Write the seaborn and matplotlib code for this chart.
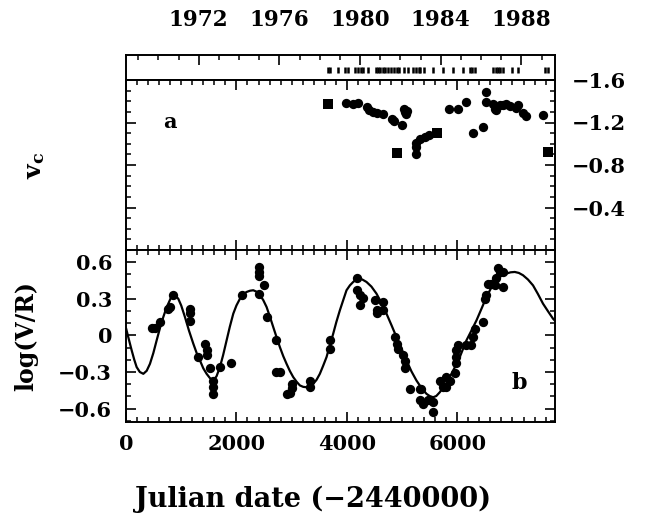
import numpy as np
import pandas as pd
import matplotlib
matplotlib.use("Agg")
import matplotlib.pyplot as plt
import seaborn as sns
from matplotlib.ticker import MultipleLocator, FixedLocator

# ---------------- data (JD - 2440000) ----------------
# observation dates of spectra (top strip)
obs_dates = [3650, 3690, 3843, 3964, 4024, 4145, 4205, 4250, 4295, 4386,
             4530, 4560, 4600, 4650, 4700, 4740, 4800, 4850, 4900, 4950,
             5040, 5110, 5200, 5250, 5300, 5320, 5395, 5560, 5745, 5925,
             6105, 6225, 6275, 6315, 6650, 6700, 6740, 6780, 6820, 7000,
             7100, 7585, 7640]

# panel a : v_c
va_circ_x = [3982, 4115, 4193, 4356, 4404, 4476, 4538, 4646, 4809, 4851,
             4990, 5030, 5050, 5080, 5090, 5260, 5260, 5260, 5320, 5410,
             5490, 5852, 6015, 6166, 6287, 6467, 6516, 6516, 6648, 6679,
             6710, 6769, 6829, 6890, 6950, 7071, 7101, 7191, 7240, 7553]
va_circ_y = [-1.38, -1.37, -1.38, -1.35, -1.32, -1.30, -1.29, -1.28, -1.235, -1.21,
             -1.18, -1.33, -1.30, -1.28, -1.31, -1.01, -0.965, -0.90, -1.045, -1.06,
             -1.08, -1.33, -1.33, -1.39, -1.10, -1.155, -1.49, -1.39, -1.378, -1.33,
             -1.314, -1.362, -1.362, -1.378, -1.352, -1.34, -1.362, -1.289, -1.257, -1.27]
va_sq_x = [3662, 4917, 5635, 7644]
va_sq_y = [-1.37, -0.91, -1.10, -0.92]

# panel b : log(V/R)
vr_x = [465, 525, 615, 766, 797, 857, 1160, 1160, 1160, 1310,
        1430, 1460, 1460, 1520, 1580, 1580, 1580, 1700, 1900, 2110,
        2400, 2400, 2400, 2400, 2500, 2545, 2725, 2725, 2785, 2910,
        2970, 3000, 3000, 3330, 3330, 3690, 3690, 4175, 4175, 4235,
        4235, 4295, 4510, 4540, 4540, 4660, 4660, 4870, 4900, 4930,
        5020, 5050, 5050, 5140, 5320, 5350, 5320, 5380, 5470, 5560,
        5560, 5680, 5740, 5800, 5800, 5860, 5955, 5985, 5985, 5985,
        6015, 6165, 6255, 6285, 6315, 6465, 6495, 6525, 6555, 6615,
        6675, 6705, 6735, 6765, 6825, 6825]
vr_y = [0.06, 0.06, 0.11, 0.22, 0.23, 0.33, 0.22, 0.18, 0.12, -0.18,
        -0.07, -0.12, -0.16, -0.27, -0.37, -0.42, -0.48, -0.26, -0.23, 0.33,
        0.56, 0.52, 0.49, 0.34, 0.41, 0.15, -0.04, -0.30, -0.30, -0.48,
        -0.47, -0.40, -0.43, -0.37, -0.42, -0.04, -0.11, 0.47, 0.37, 0.33,
        0.25, 0.31, 0.29, 0.21, 0.18, 0.27, 0.21, -0.01, -0.07, -0.11,
        -0.16, -0.21, -0.27, -0.44, -0.44, -0.44, -0.53, -0.56, -0.53, -0.55,
        -0.63, -0.37, -0.42, -0.34, -0.42, -0.37, -0.31, -0.23, -0.18, -0.12,
        -0.08, -0.08, -0.08, -0.01, 0.05, 0.11, 0.30, 0.33, 0.42, 0.42,
        0.41, 0.47, 0.55, 0.52, 0.52, 0.40]

# fitted curve
fit_x = [0, 50, 103, 150, 193, 250, 314, 375, 434, 495,
         555, 615, 676, 720, 766, 810, 857, 900, 947, 1000,
         1068, 1140, 1219, 1280, 1339, 1400, 1460, 1520, 1581, 1640,
         1701, 1760, 1822, 1880, 1943, 2000, 2063, 2120, 2184, 2245,
         2305, 2365, 2425, 2485, 2546, 2605, 2667, 2727, 2787, 2848,
         2908, 2968, 3029, 3090, 3149, 3210, 3270, 3330, 3391, 3450,
         3511, 3570, 3632, 3690, 3753, 3810, 3873, 3935, 3994, 4055,
         4115, 4160, 4205, 4280, 4356, 4445, 4537, 4628, 4718, 4810,
         4899, 4990, 5080, 5170, 5261, 5350, 5442, 5500, 5563, 5620,
         5683, 5775, 5864, 5955, 6045, 6105, 6166, 6257, 6348, 6440,
         6529, 6620, 6710, 6800, 6891, 6965, 7041, 7115, 7191, 7280,
         7372, 7460, 7553, 7640, 7734, 7770]
fit_y = [0.06, -0.03, -0.123, -0.20, -0.26, -0.30, -0.315, -0.29, -0.233, -0.145,
         -0.041, 0.06, 0.151, 0.21, 0.26, 0.305, 0.329, 0.325, 0.30, 0.245,
         0.15, 0.04, -0.068, -0.145, -0.205, -0.27, -0.315, -0.35, -0.37, -0.335,
         -0.26, -0.16, -0.041, 0.07, 0.178, 0.245, 0.30, 0.335, 0.356, 0.366,
         0.37, 0.358, 0.33, 0.29, 0.233, 0.155, 0.068, -0.015, -0.096, -0.17,
         -0.233, -0.292, -0.342, -0.38, -0.41, -0.422, -0.425, -0.415, -0.397, -0.365,
         -0.315, -0.25, -0.178, -0.085, 0.014, 0.11, 0.205, 0.29, 0.37, 0.41,
         0.438, 0.455, 0.466, 0.458, 0.438, 0.40, 0.342, 0.265, 0.178, 0.082,
         -0.014, -0.11, -0.205, -0.295, -0.37, -0.43, -0.479, -0.497, -0.507, -0.497,
         -0.466, -0.41, -0.342, -0.262, -0.178, -0.11, -0.041, 0.04, 0.123, 0.22,
         0.315, 0.395, 0.452, 0.49, 0.507, 0.517, 0.52, 0.512, 0.493, 0.458,
         0.41, 0.34, 0.26, 0.20, 0.137, 0.12]

year_labels = ["1972", "1976", "1980", "1984", "1988"]
bottom_labels = ["0", "2000", "4000", "6000"]

# ---------------- style ----------------
sns.set_theme(style="white")
plt.rcParams['font.family'] = ['DejaVu Serif']
plt.rcParams['font.weight'] = 'bold'
plt.rcParams['mathtext.fontset'] = 'dejavuserif'
plt.rcParams.update({
    'text.color': 'black', 'axes.labelcolor': 'black',
    'axes.linewidth': 1.4,
    'axes.edgecolor': 'black',
    'xtick.color': 'black', 'ytick.color': 'black',
    'xtick.labelcolor': 'black', 'ytick.labelcolor': 'black',
    'xtick.direction': 'in', 'ytick.direction': 'in',
    'xtick.top': True, 'xtick.bottom': True,
    'ytick.left': True, 'ytick.right': True,
    'xtick.major.size': 7, 'ytick.major.size': 7,
    'xtick.minor.size': 3.5, 'ytick.minor.size': 3.5,
    'xtick.major.width': 1.2, 'ytick.major.width': 1.2,
    'xtick.minor.width': 1.1, 'ytick.minor.width': 1.1,
    'xtick.minor.visible': True, 'ytick.minor.visible': True,
})
FS = 15

fig = plt.figure(figsize=(6.62, 5.13), dpi=100)
fig.patch.set_facecolor('white')
L, W = 126 / 662, (555 - 126) / 662
ax_s = fig.add_axes([L, 1 - 80 / 513, W, 25 / 513])
ax_a = fig.add_axes([L, 1 - 250 / 513, W, 170 / 513])
ax_b = fig.add_axes([L, 1 - 422 / 513, W, 172 / 513])

XMAX = 7770
for ax in (ax_s, ax_a, ax_b):
    ax.set_xlim(0, XMAX)
    ax.set_facecolor('white')

# ---- strip ----
def jd_off(y):
    return pd.Timestamp(f"{y}-01-01").to_julian_date() - 2440000

ax_s.set_ylim(0, 1)
ax_s.vlines(obs_dates, 0.26, 0.52, color='black', lw=1.8)
ax_s.yaxis.set_major_locator(FixedLocator([]))
ax_s.yaxis.set_minor_locator(FixedLocator([]))
ax_s.xaxis.set_major_locator(FixedLocator([jd_off(int(y)) for y in year_labels]))
ax_s.set_xticklabels(year_labels, fontsize=FS + 0.5, fontweight='bold')
ax_s.xaxis.set_minor_locator(FixedLocator([jd_off(y) for y in range(1969, 1990)]))
ax_s.tick_params(axis='x', which='both', direction='in', top=True, bottom=False,
                 labeltop=True, labelbottom=False, pad=17)
ax_s.tick_params(axis='y', which='both', left=False, right=False)

# ---- panel a ----
sns.scatterplot(x=va_circ_x, y=va_circ_y, ax=ax_a, color='black', s=45,
                marker='o', edgecolor='black', linewidth=0, legend=False)
sns.scatterplot(x=va_sq_x, y=va_sq_y, ax=ax_a, color='black', s=42,
                marker='s', edgecolor='black', linewidth=0, legend=False)
ax_a.set_ylim(0, -1.6)
ax_a.yaxis.set_major_locator(FixedLocator([-1.6, -1.2, -0.8, -0.4]))
ax_a.yaxis.set_minor_locator(MultipleLocator(0.1))
ax_a.set_yticklabels(["\u22121.6", "\u22121.2", "\u22120.8", "\u22120.4"], fontsize=FS, fontweight='bold')
ax_a.tick_params(axis='y', which='both', left=True, right=True,
                 labelleft=False, labelright=True, pad=12)
ax_a.set_ylabel(r'$\mathbf{v_c}$', fontsize=FS + 3)
ax_a.yaxis.set_label_position('left')
ax_a.yaxis.set_label_coords(-0.185, 0.5)
ax_a.text(796, -1.2, 'a', fontsize=FS, fontweight='bold', ha='center', va='center')

# ---- panel b ----
sns.lineplot(x=fit_x, y=fit_y, ax=ax_b, color='black', lw=1.6, sort=False,
             estimator=None, legend=False)
sns.scatterplot(x=vr_x, y=vr_y, ax=ax_b, color='black', s=45, marker='o',
                edgecolor='black', linewidth=0, legend=False)
ax_b.set_ylim(-0.71, 0.7)
ax_b.yaxis.set_major_locator(FixedLocator([-0.6, -0.3, 0, 0.3, 0.6]))
ax_b.yaxis.set_minor_locator(MultipleLocator(0.1))
ax_b.set_yticklabels(["\u22120.6", "\u22120.3", "0", "0.3", "0.6"], fontsize=FS, fontweight='bold')
ax_b.tick_params(axis='y', which='both', left=True, right=True,
                 labelleft=True, labelright=False, pad=10)
ax_b.set_ylabel('log(V/R)', fontsize=17, fontweight='bold')
ax_b.yaxis.set_label_coords(-0.205, 0.5)
ax_b.text(7130, -0.39, 'b', fontsize=FS + 1, fontweight='bold', ha='center', va='center')

for ax in (ax_a, ax_b):
    ax.xaxis.set_major_locator(FixedLocator([0, 2000, 4000, 6000]))
    ax.xaxis.set_minor_locator(MultipleLocator(200))
    ax.tick_params(axis='x', which='both', top=True, bottom=True)

ax_a.tick_params(axis='x', labelbottom=False)
ax_b.set_xticklabels(bottom_labels, fontsize=FS, fontweight='bold')
ax_b.tick_params(axis='x', which='major', pad=9)
ax_b.set_xlabel('Julian date (\u22122440000)', fontsize=19.5, fontweight='bold')
ax_b.xaxis.set_label_coords(0.436, -0.37)

fig.savefig('out.png', dpi=100, facecolor='white')
